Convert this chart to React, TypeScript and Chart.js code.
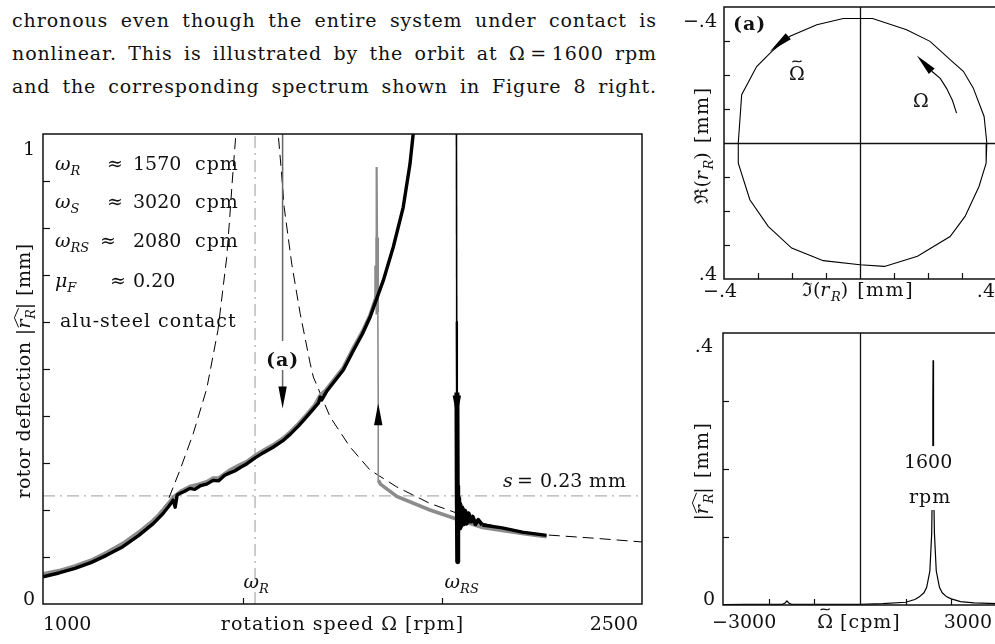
import React, { useEffect, useRef } from 'react';
import { Chart, registerables } from 'chart.js';
Chart.register(...registerables);

const FONT = '"DejaVu Serif", "Liberation Serif", serif';
const W = 1000;
const H = 644;
const INK = '#111';

// ---------------- paragraph ----------------
const paragraphLines = [
  'chronous even though the entire system under contact is',
  'nonlinear. This is illustrated by the orbit at \u03A9\u2009=\u20091600 rpm',
  'and the corresponding spectrum shown in Figure 8 right.',
];

// ---------------- main chart data ----------------
const speedRange = [1000, 2500];
const deflRange = [0, 1];
const speedTickMarks = [1500, 2000];
const deflTickMarks = [0.1, 0.2, 0.3, 0.4, 0.5, 0.6, 0.7, 0.8, 0.9];
const speedTickLabels = ['1000', '2500'];
const deflTickLabels = ['0', '1'];

const runUpSpeed = [1000, 1040, 1080, 1120, 1160, 1200, 1240, 1276, 1300, 1315, 1326, 1331, 1336, 1345, 1355, 1368, 1380, 1395, 1410, 1426, 1440, 1455, 1468, 1480, 1495, 1510, 1531, 1552, 1575, 1600, 1620, 1640, 1660, 1680, 1690, 1694, 1698, 1710, 1730, 1752, 1777, 1800, 1819, 1835, 1852, 1877, 1902, 1919, 1927, 1950, 1990, 2034, 2036, 2036.6, 2037.3, 2038, 2039, 2040, 2041, 2042, 2044, 2046, 2049, 2052, 2056, 2060, 2065, 2070, 2076, 2083, 2090, 2100, 2150, 2200, 2261];
const runUpDefl = [0.058, 0.066, 0.076, 0.088, 0.104, 0.122, 0.146, 0.171, 0.192, 0.208, 0.221, 0.206, 0.232, 0.236, 0.240, 0.246, 0.244, 0.252, 0.255, 0.263, 0.262, 0.274, 0.279, 0.283, 0.291, 0.298, 0.311, 0.322, 0.333, 0.347, 0.362, 0.379, 0.398, 0.418, 0.428, 0.440, 0.434, 0.452, 0.474, 0.498, 0.539, 0.575, 0.610, 0.648, 0.688, 0.759, 0.844, 0.936, 1.0, 1.15, 1.4, 1.8, 0.6, 0.45, 0.25, 0.09, 0.235, 0.16, 0.225, 0.162, 0.212, 0.166, 0.205, 0.17, 0.198, 0.172, 0.192, 0.172, 0.186, 0.17, 0.179, 0.168, 0.162, 0.153, 0.146];

const runDownSpeed = [2261, 2200, 2100, 2028, 1969, 1886, 1845, 1840, 1839.5, 1838.5, 1837, 1836, 1835, 1834, 1833, 1819, 1800, 1777, 1752, 1730, 1710, 1694, 1680, 1660, 1640, 1620, 1600, 1575, 1552, 1531, 1510, 1490, 1468, 1440, 1426, 1410, 1390, 1368, 1345, 1326, 1310, 1290, 1276, 1240, 1200, 1160, 1120, 1080, 1040, 1000];
const runDownDefl = [0.143, 0.150, 0.163, 0.183, 0.200, 0.229, 0.255, 0.263, 0.42, 0.62, 0.78, 0.93, 0.72, 0.66, 0.650, 0.615, 0.580, 0.545, 0.503, 0.479, 0.457, 0.444, 0.423, 0.403, 0.384, 0.367, 0.352, 0.338, 0.327, 0.316, 0.303, 0.295, 0.285, 0.268, 0.268, 0.26, 0.255, 0.25, 0.24, 0.227, 0.21, 0.19, 0.178, 0.153, 0.129, 0.110, 0.093, 0.081, 0.071, 0.064];

const linearLeftSpeed = [1000, 1100, 1200, 1260, 1310, 1343, 1376, 1410, 1438, 1460, 1467, 1474, 1483, 1490];
const linearLeftDefl = [0.062, 0.084, 0.124, 0.160, 0.214, 0.285, 0.362, 0.458, 0.582, 0.737, 0.815, 0.900, 1.0, 1.1];
const linearRightSpeed = [1582, 1589, 1597, 1604, 1623, 1644, 1669, 1677, 1719, 1769, 1819, 1886, 1969, 2028, 2100, 2180, 2261, 2380, 2500];
const linearRightDefl = [1.1, 1.0, 0.92, 0.844, 0.723, 0.618, 0.512, 0.483, 0.398, 0.334, 0.285, 0.249, 0.214, 0.196, 0.172, 0.157, 0.147, 0.140, 0.132];

const omegaRLine = 1531;
const omegaRSMark = 2036;
const clearanceS = 0.23;
const orbitSpeed = 1600;
const arrowSpeed = [1600, 1839.5, 2036.3];
const arrowTipDefl = [0.416, 0.427, 0.397];
const arrowDown = [true, false, true];

const legendSymbols = ['R', 'S', 'RS', 'F'];
const legendValues = ['1570', '3020', '2080', '0.20'];
const legendUnits = ['cpm', 'cpm', 'cpm', ''];
const contactText = 'alu-steel contact';

// ---------------- orbit data ----------------
const orbitRange = [-0.4, 0.4];
const orbitTickMarks = [-0.3, -0.2, -0.1, 0.1, 0.2, 0.3];
const orbitTickLabels = ['\u2212.4', '.4'];
const orbitIm = [-0.049, 0.037, 0.137, 0.206, 0.265, 0.304, 0.333, 0.365, 0.373, 0.371, 0.350, 0.309, 0.265, 0.169, 0.072, 0.000, -0.108, -0.201, -0.270, -0.324, -0.358, -0.358, -0.348, -0.304, -0.260, -0.206, -0.127, -0.049];
const orbitRe = [-0.366, -0.366, -0.333, -0.299, -0.245, -0.211, -0.162, -0.078, 0.000, 0.059, 0.128, 0.216, 0.275, 0.333, 0.363, 0.358, 0.346, 0.309, 0.245, 0.167, 0.059, 0.000, -0.142, -0.225, -0.269, -0.314, -0.348, -0.366];
const spinArcIm = [0.284, 0.272, 0.255, 0.236, 0.211];
const spinArcRe = [-0.088, -0.125, -0.160, -0.190, -0.211];
const spinArrowTip = [0.167, -0.257];
const spinArrowTail = [0.211, -0.211];
const orbitArrowTip = [-0.265, -0.269];
const orbitArrowTail = [-0.211, -0.314];

// ---------------- spectrum data ----------------
const freqRange = [-3000, 3000];
const ampRange = [0, 0.4];
const freqTickMarks = [-2000, -1000, 1000, 2000];
const ampTickMarks = [0.1, 0.2, 0.3];
const freqTickLabels = ['\u22123000', '3000'];
const ampTickLabels = ['0', '.4'];
const spectrumFreq = [-3000, -2500, -2000, -1700, -1640, -1600, -1560, -1500, -1000, -500, 0, 500, 1000, 1200, 1300, 1400, 1460, 1530, 1570, 1585, 1595, 1600, 1605, 1615, 1630, 1670, 1740, 1800, 1900, 2000, 2200, 2500, 3000];
const spectrumAmp = [0.0005, 0.001, 0.001, 0.001, 0.003, 0.006, 0.003, 0.001, 0.001, 0.001, 0.001, 0.002, 0.004, 0.008, 0.012, 0.018, 0.026, 0.05, 0.105, 0.18, 0.3, 0.36, 0.3, 0.18, 0.105, 0.05, 0.026, 0.018, 0.012, 0.009, 0.005, 0.003, 0.002];
const peakLabel = ['1600', 'rpm'];

// ---------------- helpers ----------------
const pts = (xs: number[], ys: number[]) => xs.map((x, i) => ({ x, y: ys[i] }));

type Part = { t: string; it?: boolean; b?: boolean; sub?: boolean; hat?: boolean; tilde?: boolean };
function pfont(p: Part, size: number) {
  return `${p.it ? 'italic ' : ''}${p.b ? 'bold ' : ''}${p.sub ? Math.round(size * 0.7) : size}px ${FONT}`;
}
function setPart(ctx: any, p: Part, size: number, ls: number) {
  ctx.font = pfont(p, size);
  ctx.letterSpacing = /[a-z]/.test(p.t) && !p.sub ? `${ls}px` : '0px';
}
function rich(ctx: CanvasRenderingContext2D, parts: Part[], x: number, y: number, size: number, align = 'left', ls = 1) {
  ctx.textAlign = 'left';
  ctx.textBaseline = 'alphabetic';
  ctx.fillStyle = INK;
  ctx.strokeStyle = INK;
  const ws = parts.map((p) => {
    setPart(ctx, p, size, ls);
    return ctx.measureText(p.t).width;
  });
  const tot = ws.reduce((s, w) => s + w, 0);
  let cx = align === 'left' ? x : align === 'center' ? x - tot / 2 : x - tot;
  parts.forEach((p, i) => {
    setPart(ctx, p, size, ls);
    const dy = p.sub ? size * 0.25 : 0;
    ctx.fillText(p.t, cx, y + dy);
    if (p.hat) {
      const w = ws[i] + (ws[i + 1] || 0);
      ctx.beginPath();
      ctx.lineWidth = 1;
      ctx.moveTo(cx + 1, y - size * 0.6);
      ctx.lineTo(cx + w / 2 + 1, y - size * 0.82);
      ctx.lineTo(cx + w + 1, y - size * 0.6);
      ctx.stroke();
    }
    if (p.tilde) {
      const mx = cx + ws[i] / 2;
      const ty = y - size * 0.98;
      const hw = size * 0.24;
      const hh = size * 0.13;
      ctx.beginPath();
      ctx.lineWidth = 1.1;
      ctx.moveTo(mx - hw, ty + hh * 0.3);
      ctx.bezierCurveTo(mx - hw / 2, ty - hh, mx + hw / 2, ty + hh, mx + hw, ty - hh * 0.3);
      ctx.stroke();
    }
    cx += ws[i];
  });
  (ctx as any).letterSpacing = '0px';
}
function richRot(ctx: CanvasRenderingContext2D, parts: Part[], cx: number, cy: number, size: number, ls = 1) {
  ctx.save();
  ctx.translate(cx, cy);
  ctx.rotate(-Math.PI / 2);
  rich(ctx, parts, 0, 0, size, 'center', ls);
  ctx.restore();
}
function head(ctx: CanvasRenderingContext2D, tx: number, ty: number, bx: number, by: number, hw: number) {
  const dx = tx - bx, dy = ty - by;
  const L = Math.hypot(dx, dy) || 1;
  const nx = -dy / L, ny = dx / L;
  ctx.beginPath();
  ctx.moveTo(tx, ty);
  ctx.lineTo(bx + nx * hw, by + ny * hw);
  ctx.lineTo(bx - nx * hw, by - ny * hw);
  ctx.closePath();
  ctx.fillStyle = '#000';
  ctx.fill();
}
function seg(ctx: CanvasRenderingContext2D, x1: number, y1: number, x2: number, y2: number, lw: number, color = INK) {
  ctx.beginPath();
  ctx.lineWidth = lw;
  ctx.strokeStyle = color;
  ctx.moveTo(x1, y1);
  ctx.lineTo(x2, y2);
  ctx.stroke();
}

function baseOptions(pad: any, xr: number[], yr: number[], reverseY = false) {
  return {
    responsive: false,
    animation: false,
    devicePixelRatio: 1,
    events: [],
    layout: { padding: pad },
    plugins: { legend: { display: false }, tooltip: { enabled: false } },
    elements: { point: { radius: 0 }, line: { tension: 0 } },
    scales: {
      x: { type: 'linear', display: false, min: xr[0], max: xr[1] },
      y: { type: 'linear', display: false, min: yr[0], max: yr[1], reverse: reverseY },
    },
  };
}

// ---------------- main chart ----------------
const SZ = 19;
const mainDeco = {
  id: 'mainDeco',
  afterDatasetsDraw(chart: any) {
    const { ctx, chartArea: a, scales } = chart;
    const x = scales.x, y = scales.y;
    ctx.save();
    arrowSpeed.forEach((s: number, i: number) => {
      const px = x.getPixelForValue(s);
      const py = y.getPixelForValue(arrowTipDefl[i]);
      head(ctx, px, py, px, py + (arrowDown[i] ? -22 : 22), 4.2);
    });
    const ax = x.getPixelForValue(orbitSpeed);
    ctx.fillStyle = '#fff';
    ctx.fillRect(ax - 17, 341, 34, 29);
    rich(ctx, [{ t: '(a)', b: true }], ax, 366, SZ, 'center');
    ctx.strokeStyle = INK;
    ctx.lineWidth = 1.5;
    ctx.strokeRect(a.left, a.top, a.right - a.left, a.bottom - a.top);
    deflTickMarks.forEach((v) => {
      const py = Math.round(y.getPixelForValue(v)) + 0.5;
      seg(ctx, a.left, py, a.left + 7, py, 1.2);
    });
    speedTickMarks.forEach((v) => {
      const px = Math.round(x.getPixelForValue(v)) + 0.5;
      seg(ctx, px, a.bottom, px, a.bottom - 6, 1.2);
    });
    rich(ctx, [{ t: speedTickLabels[0] }], x.getPixelForValue(speedRange[0]), a.bottom + 26, SZ, 'left');
    rich(ctx, [{ t: speedTickLabels[1] }], x.getPixelForValue(speedRange[1]) - 4, a.bottom + 26, SZ, 'right');
    rich(ctx, [{ t: deflTickLabels[0] }], a.left - 8, y.getPixelForValue(deflRange[0]) + 1, SZ, 'right');
    rich(ctx, [{ t: deflTickLabels[1] }], a.left - 8, y.getPixelForValue(deflRange[1]) + 21, SZ, 'right');
    rich(ctx, [{ t: 'rotation speed \u03A9 [rpm]' }], (a.left + a.right) / 2, a.bottom + 26, SZ, 'center');
    richRot(ctx, [{ t: 'rotor deflection |' }, { t: 'r', it: true, hat: true }, { t: 'R', it: true, sub: true }, { t: '| [mm]' }], 30, 371, 19, 0.4);
    const rows = [170, 208, 247, 287];
    const approxX = [107, 107, 100, 110];
    legendSymbols.forEach((sym, i) => {
      const base = i === 3 ? '\u03BC' : '\u03C9';
      rich(ctx, [{ t: base, it: true }, { t: sym, it: true, sub: true }], 55, rows[i], SZ);
      rich(ctx, [{ t: '\u2248' }], approxX[i], rows[i], SZ);
      rich(ctx, [{ t: legendValues[i] }], 133, rows[i], SZ);
      if (legendUnits[i]) rich(ctx, [{ t: legendUnits[i] }], 195, rows[i], SZ);
    });
    rich(ctx, [{ t: contactText }], 60, 327, SZ);
    rich(ctx, [{ t: '\u03C9', it: true }, { t: 'R', it: true, sub: true }], x.getPixelForValue(omegaRLine) + 1, 588, SZ, 'center');
    rich(ctx, [{ t: '\u03C9', it: true }, { t: 'RS', it: true, sub: true }], x.getPixelForValue(omegaRSMark) + 5, 588, SZ, 'center');
    const sy = y.getPixelForValue(clearanceS) - 9;
    rich(ctx, [{ t: 's', it: true }], 503, sy, SZ);
    rich(ctx, [{ t: '=' }], 517, sy, SZ);
    rich(ctx, [{ t: '0.23' }], 540, sy, SZ);
    rich(ctx, [{ t: 'mm' }], 589, sy, SZ);
    ctx.restore();
  },
};

function mainConfig() {
  return {
    type: 'scatter',
    data: {
      datasets: [
        {
          data: pts(runUpSpeed, runUpDefl),
          showLine: true,
          borderColor: '#000',
          borderWidth: 3.2,
          borderJoinStyle: 'round',
          order: 1,
          segment: {
            borderWidth: (c: any) => {
              const p = c.p0.parsed, q = c.p1.parsed;
              if (p.x >= 2030 && q.x >= 2030 && p.y > 0.55 && q.y > 0.55) return 1.6;
              if (p.x >= 2035.9 && q.x <= 2036.7 && p.y > 0.4) return 2.2;
              if (p.x >= 2036.5 && q.x <= 2070) return 5;
              if (p.x >= 2036.5 && q.x <= 2100) return 4;
              return 3.4;
            },
          },
        },
        {
          data: pts(runDownSpeed, runDownDefl),
          showLine: true,
          borderColor: '#8c8c8c',
          borderWidth: 3.6,
          order: 2,
          segment: {
            borderWidth: (c: any) => {
              const p = c.p0.parsed, q = c.p1.parsed;
              if (p.x >= 1838 && q.x >= 1838 && Math.abs(p.y - q.y) > 0.1) return 1.6;
              if (p.y > 0.85 || q.y > 0.85) return 1.8;
              return 3.6;
            },
          },
        },
        {
          data: pts([orbitSpeed, orbitSpeed], [deflRange[1], arrowTipDefl[0] + 0.03]),
          showLine: true,
          borderColor: '#666',
          borderWidth: 1.5,
          order: 3,
        },
        {
          data: pts(linearLeftSpeed, linearLeftDefl),
          showLine: true,
          borderColor: '#000',
          borderWidth: 1,
          borderDash: [11, 6],
          order: 4,
        },
        {
          data: pts(linearRightSpeed, linearRightDefl),
          showLine: true,
          borderColor: '#000',
          borderWidth: 1,
          borderDash: [11, 6],
          order: 4,
        },
        {
          data: pts([omegaRLine, omegaRLine], deflRange),
          showLine: true,
          borderColor: '#b0b0b0',
          borderWidth: 1.3,
          borderDash: [12, 5, 2, 5],
          order: 5,
        },
        {
          data: pts(speedRange, [clearanceS, clearanceS]),
          showLine: true,
          borderColor: '#b0b0b0',
          borderWidth: 1.3,
          borderDash: [12, 5, 2, 5],
          order: 5,
        },
      ],
    },
    options: baseOptions({ left: 43, top: 134, right: W - 642, bottom: H - 604 }, speedRange, deflRange),
    plugins: [mainDeco],
  };
}

// ---------------- orbit chart ----------------
const orbitDeco = {
  id: 'orbitDeco',
  afterDatasetsDraw(chart: any) {
    const { ctx, chartArea: a, scales } = chart;
    const x = scales.x, y = scales.y;
    ctx.save();
    ctx.strokeStyle = INK;
    ctx.lineWidth = 1.5;
    ctx.strokeRect(a.left, a.top, a.right - a.left, a.bottom - a.top);
    const x0 = Math.round(x.getPixelForValue(0)) + 0.5;
    const y0 = Math.round(y.getPixelForValue(0)) + 0.5;
    seg(ctx, x0, a.top, x0, a.bottom, 1.3);
    seg(ctx, a.left, y0, a.right, y0, 1.3);
    orbitTickMarks.forEach((v) => {
      const py = Math.round(y.getPixelForValue(v)) + 0.5;
      seg(ctx, a.left, py, a.left + 6, py, 1.2);
      const px = Math.round(x.getPixelForValue(v)) + 0.5;
      seg(ctx, px, a.bottom, px, a.bottom - 6, 1.2);
    });
    head(ctx, x.getPixelForValue(orbitArrowTip[0]), y.getPixelForValue(orbitArrowTip[1]), x.getPixelForValue(orbitArrowTail[0]), y.getPixelForValue(orbitArrowTail[1]), 4);
    head(ctx, x.getPixelForValue(spinArrowTip[0]), y.getPixelForValue(spinArrowTip[1]), x.getPixelForValue(spinArrowTail[0]), y.getPixelForValue(spinArrowTail[1]), 4);
    rich(ctx, [{ t: orbitTickLabels[0] }], a.left - 7, a.top + 20, SZ, 'right');
    rich(ctx, [{ t: orbitTickLabels[1] }], a.left - 7, a.bottom + 1, SZ, 'right');
    rich(ctx, [{ t: orbitTickLabels[0] }], a.left - 4, a.bottom + 18, SZ, 'center');
    rich(ctx, [{ t: orbitTickLabels[1] }], a.right - 1, a.bottom + 18, SZ, 'right');
    rich(ctx, [{ t: '\u2111(' }, { t: 'r', it: true }, { t: 'R', it: true, sub: true }, { t: ') [mm]' }], 858, a.bottom + 17, SZ, 'center', 1.5);
    richRot(ctx, [{ t: '\u211C(' }, { t: 'r', it: true }, { t: 'R', it: true, sub: true }, { t: ') [mm]' }], 708, 145, SZ, 1.5);
    rich(ctx, [{ t: '(a)', b: true }], 733, 30, SZ, 'left');
    rich(ctx, [{ t: '\u03A9', tilde: true }], 797, 80, SZ, 'center');
    rich(ctx, [{ t: '\u03A9' }], 921, 107, SZ, 'center');
    ctx.restore();
  },
};

function orbitConfig() {
  return {
    type: 'scatter',
    data: {
      datasets: [
        { data: pts(orbitIm, orbitRe), showLine: true, borderColor: '#000', borderWidth: 1.1 },
        { data: pts(spinArcIm, spinArcRe), showLine: true, borderColor: '#000', borderWidth: 1.1 },
      ],
    },
    options: baseOptions({ left: 724, top: 7, right: W - 996, bottom: H - 279 }, orbitRange, orbitRange, true),
    plugins: [orbitDeco],
  };
}

// ---------------- spectrum chart ----------------
const spectrumDeco = {
  id: 'spectrumDeco',
  afterDatasetsDraw(chart: any) {
    const { ctx, chartArea: a, scales } = chart;
    const x = scales.x, y = scales.y;
    ctx.save();
    ctx.strokeStyle = INK;
    ctx.lineWidth = 1.5;
    ctx.strokeRect(a.left, a.top, a.right - a.left, a.bottom - a.top);
    const x0 = Math.round(x.getPixelForValue(0)) + 0.5;
    seg(ctx, x0, a.top, x0, a.bottom, 1.3);
    ampTickMarks.forEach((v) => {
      const py = Math.round(y.getPixelForValue(v)) + 0.5;
      seg(ctx, a.left, py, a.left + 6, py, 1.2);
    });
    freqTickMarks.forEach((v) => {
      const px = Math.round(x.getPixelForValue(v)) + 0.5;
      seg(ctx, px, a.bottom, px, a.bottom - 6, 1.2);
    });
    const px = x.getPixelForValue(1600);
    ctx.fillStyle = '#fff';
    ctx.fillRect(px - 28, 446, 50, 64);
    rich(ctx, [{ t: peakLabel[0] }], px - 5, 468, SZ, 'center');
    rich(ctx, [{ t: peakLabel[1] }], px - 3, 503, SZ, 'center');
    rich(ctx, [{ t: ampTickLabels[1] }], a.left - 10, y.getPixelForValue(ampRange[1]) + 19, SZ, 'right');
    rich(ctx, [{ t: ampTickLabels[0] }], a.left - 8, y.getPixelForValue(ampRange[0]), SZ, 'right');
    rich(ctx, [{ t: freqTickLabels[0] }], a.left - 11, a.bottom + 23, SZ, 'left');
    rich(ctx, [{ t: freqTickLabels[1] }], a.right - 5, a.bottom + 23, SZ, 'right');
    rich(ctx, [{ t: '\u03A9', tilde: true }, { t: ' [cpm]' }], 859, a.bottom + 23, SZ, 'center');
    richRot(ctx, [{ t: '|' }, { t: 'r', it: true, hat: true }, { t: 'R', it: true, sub: true }, { t: '| [mm]' }], 708, 471, SZ, 1.5);
    ctx.restore();
  },
};

function spectrumConfig() {
  return {
    type: 'scatter',
    data: {
      datasets: [{ data: pts(spectrumFreq, spectrumAmp), showLine: true, borderColor: '#000', borderWidth: 1.2 }],
    },
    options: baseOptions({ left: 723, top: 333, right: W - 997, bottom: H - 605 }, freqRange, ampRange),
    plugins: [spectrumDeco],
  };
}

// ---------------- components ----------------
function ChartLayer({ make }: { make: () => any }) {
  const ref = useRef<HTMLCanvasElement>(null);
  useEffect(() => {
    const chart = new Chart(ref.current as HTMLCanvasElement, make());
    return () => chart.destroy();
  }, []);
  return (
    <canvas
      ref={ref}
      width={W}
      height={H}
      style={{ position: 'absolute', left: 0, top: 0, width: W, height: H }}
    />
  );
}

export default function App() {
  return (
    <div
      style={{
        position: 'fixed',
        left: 0,
        top: 0,
        width: 995,
        height: 644,
        overflow: 'hidden',
        background: '#fff',
      }}
    >
      <div
        style={{
          position: 'absolute',
          left: 12,
          top: 4,
          width: 645,
          font: `19px ${FONT}`,
          lineHeight: '33px',
          letterSpacing: '0.9px',
          color: INK,
        }}
      >
        {paragraphLines.map((l, i) => (
          <div key={i} style={{ textAlign: 'justify', textAlignLast: 'justify' } as any}>
            {l}
          </div>
        ))}
      </div>
      <ChartLayer make={mainConfig} />
      <ChartLayer make={orbitConfig} />
      <ChartLayer make={spectrumConfig} />
    </div>
  );
}
